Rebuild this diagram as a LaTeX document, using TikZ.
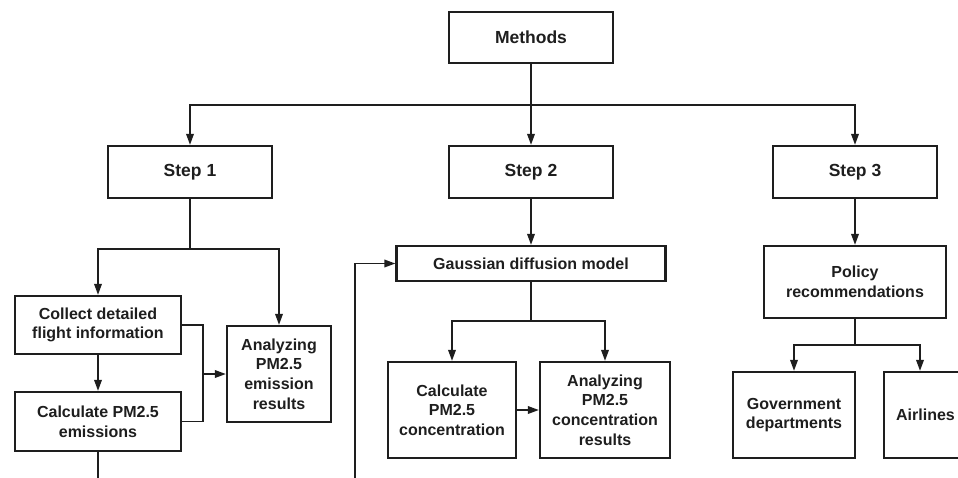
\documentclass[tikz,border=0pt]{standalone}
\usepackage{fontspec}
\setmainfont{Liberation Sans}
\usetikzlibrary{arrows.meta}
\definecolor{ink}{HTML}{1E1E1E}
\begin{document}
\begin{tikzpicture}[x=1pt,y=-1pt,
  box/.style={draw=ink,line width=2.2pt,text=ink,inner sep=0pt,align=center,font=\bfseries\fontsize{16}{19.7}\selectfont},
  head/.style={box,font=\bfseries\fontsize{17.5}{21}\selectfont},
  conn/.style={draw=ink,line width=1.8pt},
  arr/.style={conn,-{Triangle[length=11pt,width=7.5pt]}}]
\useasboundingbox (0,0) rectangle (958,477);
\clip (0,0) rectangle (958,477);
% boxes
\node[head,minimum width=164pt,minimum height=51pt] (methods) at (531,37.5) {Methods};
\node[head,minimum width=164pt,minimum height=52pt] (s1) at (190,172) {Step 1};
\node[head,minimum width=164pt,minimum height=52pt] (s2) at (531,172) {Step 2};
\node[head,minimum width=164pt,minimum height=52pt] (s3) at (855,172) {Step 3};
\node[box,minimum width=166pt,minimum height=58pt] (collect) at (98,325) {Collect detailed\\flight information};
\node[box,minimum width=166pt,minimum height=59pt] (calcE) at (98,421.5) {Calculate PM2.5\\emissions};
\node[box,minimum width=104pt,minimum height=96pt] (anaE) at (279,374) {Analyzing\\PM2.5\\emission\\results};
\node[box,minimum width=269pt,minimum height=35pt] (gauss) at (531,263.5) {Gaussian diffusion model};
\node[box,minimum width=128pt,minimum height=96pt] (calcC) at (452,410) {Calculate\\PM2.5\\concentration};
\node[box,minimum width=130pt,minimum height=96pt] (anaC) at (605,410) {Analyzing\\PM2.5\\concentration\\results};
\node[box,minimum width=182pt,minimum height=72pt] (policy) at (855,282) {Policy\\recommendations};
\node[box,minimum width=122pt,minimum height=86pt] (gov) at (794,415) {Government\\departments};
\node[box,minimum width=78pt,minimum height=86pt] (air) at (923,415) {\hspace*{5pt}Airlines};
% junctions and free ends
\coordinate (j0) at (531,105);
\coordinate (j1) at (190,249);
\coordinate (jb) at (203,374);
\coordinate (j2) at (531,321);
\coordinate (j3) at (855,345);
\coordinate (fe1) at (98,478);
\coordinate (fe2) at (355,478);
% connectors
\draw[conn] (methods.south) -- (j0);
\draw[arr] (j0) -- (s2.north);
\draw[arr] (j0) -| (s1.north);
\draw[arr] (j0) -| (s3.north);
\draw[conn] (s1.south) -- (j1);
\draw[arr] (j1) -| (collect.north);
\draw[arr] (j1) -| (anaE.north);
\draw[arr] (collect.south) -- (calcE.north);
\draw[conn] (collect.east) -| (jb);
\draw[conn] (calcE.east) -| (jb);
\draw[arr] (jb) -- (anaE.west);
\draw[conn] (calcE.south) -- (fe1);
\draw[arr] (fe2) |- (gauss.west);
\draw[arr] (s2.south) -- (gauss.north);
\draw[conn] (gauss.south) -- (j2);
\draw[arr] (j2) -| (calcC.north);
\draw[arr] (j2) -| (anaC.north);
\draw[arr] (calcC.east) -- (anaC.west);
\draw[arr] (s3.south) -- (policy.north);
\draw[conn] (policy.south) -- (j3);
\draw[arr] (j3) -| (gov.north);
\draw[arr] (j3) -| ([xshift=-3pt]air.north);
\end{tikzpicture}
\end{document}
